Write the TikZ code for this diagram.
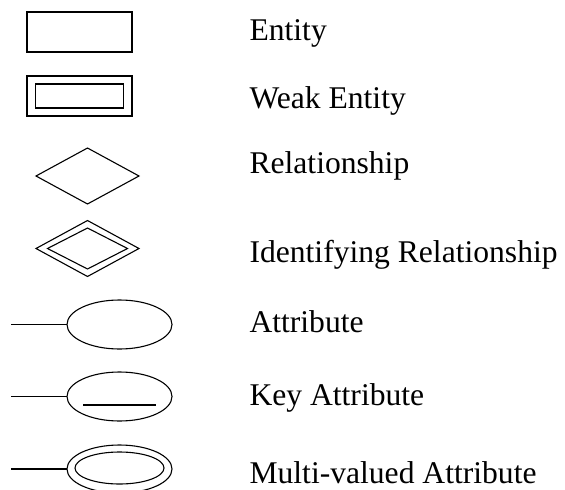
\documentclass[tikz,border=0pt]{standalone}
\usepackage{fontspec}
\setmainfont{Liberation Serif}
\usetikzlibrary{shapes.geometric}
\begin{document}
\begin{tikzpicture}[x=1pt,y=-1pt,
  every path/.style={line width=1.1pt},
  shapebase/.style={draw, inner sep=0pt, outer sep=0pt},
  entitybox/.style={shapebase, rectangle, minimum width=105pt, minimum height=40pt},
  innerbox/.style={shapebase, rectangle, minimum width=88pt, minimum height=24pt},
  relbox/.style={shapebase, diamond, minimum width=103pt, minimum height=56pt},
  innerrel/.style={shapebase, diamond, minimum width=80pt, minimum height=41pt},
  attrbox/.style={shapebase, ellipse, minimum width=105pt, minimum height=49pt},
  innerattr/.style={shapebase, ellipse, minimum width=89pt, minimum height=32pt},
  label/.style={anchor=base west, inner sep=0pt, font=\fontsize{31.6}{36}\selectfont}]
\useasboundingbox (0,0) rectangle (565,490);

% entity
\node[entitybox] (ent) at (79.5,32) {};
% weak entity
\node[entitybox] (weak) at (79.5,96) {};
\node[innerbox] (weakin) at (79.5,96) {};
% relationship
\node[relbox] (rel) at (87.5,176) {};
% identifying relationship
\node[relbox] (idrel) at (87.5,248.5) {};
\node[innerrel] (idrelin) at (87.5,248.5) {};
% attribute
\node[attrbox] (attr) at (119.5,324.5) {};
\coordinate (attrend) at (11,324.5);
\draw (attrend) -- (attr.west);
% key attribute
\node[attrbox] (key) at (119.5,396.5) {};
\coordinate (keyend) at (11,396.5);
\draw (keyend) -- (key.west);
\draw ([xshift=-36.5pt,yshift=-8.5pt]key.center) -- ([xshift=36.5pt,yshift=-8.5pt]key.center);
% multi-valued attribute
\node[attrbox, minimum height=48pt] (multi) at (119.5,469) {};
\node[innerattr] (multiin) at (119.5,468) {};
\coordinate (multiend) at (11,469);
\draw (multiend) -- (multi.west);

% legend texts
\node[label] (t1) at (249,40) {Entity};
\node[label] (t2) at (249,108) {Weak Entity};
\node[label] (t3) at (249,173) {Relationship};
\node[label] (t4) at (249,262) {Identifying Relationship};
\node[label] (t5) at (249,332) {Attribute};
\node[label] (t6) at (249,405) {Key Attribute};
\node[label] (t7) at (249,483) {Multi-valued Attribute};
\end{tikzpicture}
\end{document}
